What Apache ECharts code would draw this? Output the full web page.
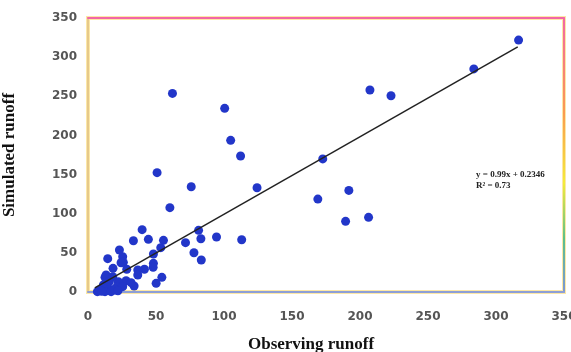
<!DOCTYPE html>
<html lang="en" style="height: 100%">

<head>
  <meta charset="UTF-8" />
  <title>Observed vs simulated runoff</title>
  <script src="https://cdn.jsdelivr.net/npm/echarts@6/dist/echarts.min.js"></script>
</head>

<body style="height: 100%; margin: 0; background: #fff">
  <div id="main" style="width: 571px; height: 352px"></div>
  <script type="text/javascript">
    // observed runoff (x) / simulated runoff (y)
    var observed = [
      316.6, 283.7, 207.3, 222.8, 172.6, 191.8, 169, 189.4, 206.3,
      62.1, 100.5, 104.9, 112.2, 50.8, 75.9, 124.3, 60.2,
      39.8, 44.4, 55.5, 81.3, 83, 94.5, 113, 71.7, 53.5, 48.1, 77.9, 83.3,
      33.4, 23.1, 25.5, 26, 14.5, 18.4, 48.1, 47.9, 41.5, 36.6, 36.6, 28.5,
      12.5, 16.4, 54.3, 50.1, 33.9, 28, 22.3, 21.4, 19.9, 15, 11.3, 6.9, 12.5, 17,
      24.3, 13.3, 18.2, 15.7, 8.3, 19.4, 25.5, 31.7, 10, 22
    ];
    var simulated = [
      321.8, 285, 258, 250.7, 170, 129.8, 118.7, 90.3, 95.4,
      253.7, 234.6, 193.7, 173.7, 152.4, 134.5, 133.2, 107.7,
      79.6, 67.3, 66, 78.8, 68, 70.2, 66.8, 63, 56.6, 48.5, 50.2, 40.9,
      65.5, 53.6, 45.1, 37.9, 42.6, 30.2, 36.6, 31.5, 29, 28.1, 21.7, 29,
      18.7, 17.5, 18.7, 11.1, 7.7, 14.4, 13.2, 6.8, 2.6, 4.7, 8.9, 0.4, 0.4, 0.4,
      37.4, 21.7, 19.6, 13.2, 2.6, 3.4, 6.8, 11.9, 1, 1.5
    ];
    // trend line y = 0.99x + 0.2346 (end points)
    var trendX = [5, 316];
    var trendY = [5.2, 313.1];
    var eqText = 'y = 0.99x + 0.2346\nR² = 0.73';

    var points = [];
    for (var i = 0; i < observed.length; i++) {
      points.push([observed[i], simulated[i]]);
    }
    var trend = [[trendX[0], trendY[0]], [trendX[1], trendY[1]]];

    var myChart = echarts.init(document.getElementById('main'));

    var tickLabel = {
      fontFamily: 'DejaVu Sans',
      fontWeight: 'bold',
      fontSize: 12,
      color: '#555'
    };

    var option = {
      animation: false,
      grid: {
        left: 88, right: 7, top: 18, bottom: 60,
        outerBoundsMode: 'none',
        containLabel: false,
        show: true,
        backgroundColor: '#fff',
        borderColor: '#fce7a6',
        borderWidth: 4
      },
      xAxis: [{
        type: 'value',
        min: 0, max: 350, interval: 50,
        name: 'Observing runoff',
        nameLocation: 'middle',
        nameGap: 44,
        nameTextStyle: {
          fontFamily: 'Liberation Serif', fontWeight: 'bold', fontSize: 17,
          color: '#111', padding: [0, 30, 0, 0]
        },
        axisLine: { onZero: false, lineStyle: { color: '#8d9fd6', width: 2 } },
        axisTick: { show: false },
        splitLine: { show: false },
        axisLabel: Object.assign({ margin: 19 }, tickLabel)
      }, {
        type: 'value',
        position: 'top',
        min: 0, max: 350,
        axisLine: { onZero: false, lineStyle: { color: '#f266a6', width: 2 } },
        axisTick: { show: false },
        splitLine: { show: false },
        axisLabel: { show: false }
      }],
      yAxis: [{
        type: 'value',
        min: 0, max: 350, interval: 50,
        name: 'Simulated runoff',
        nameLocation: 'middle',
        nameGap: 70,
        nameTextStyle: {
          fontFamily: 'Liberation Serif', fontWeight: 'bold', fontSize: 17, color: '#111'
        },
        axisLine: { onZero: false, lineStyle: { color: '#e6c98a', width: 2 } },
        axisTick: { show: false },
        splitLine: { show: false },
        axisLabel: Object.assign({ margin: 11 }, tickLabel)
      }, {
        type: 'value',
        position: 'right',
        min: 0, max: 350,
        axisLine: {
          onZero: false,
          lineStyle: {
            width: 2,
            color: new echarts.graphic.LinearGradient(0, 0, 0, 1, [
              { offset: 0, color: '#f266a6' },
              { offset: 0.35, color: '#fb9a50' },
              { offset: 0.6, color: '#f4ec3a' },
              { offset: 0.8, color: '#5cc08a' },
              { offset: 1, color: '#7f95d8' }
            ])
          }
        },
        axisTick: { show: false },
        splitLine: { show: false },
        axisLabel: { show: false }
      }],
      series: [{
        type: 'scatter',
        data: points,
        symbolSize: 9,
        itemStyle: { color: '#2236c9', opacity: 1 },
        z: 3
      }, {
        type: 'line',
        data: trend,
        symbol: 'none',
        lineStyle: { color: '#222', width: 1.5 },
        z: 4
      }],
      graphic: [{
        type: 'text',
        left: 476,
        top: 169,
        style: {
          text: eqText,
          fontFamily: 'Liberation Serif',
          fontWeight: 'bold',
          fontSize: 9,
          lineHeight: 11,
          align: 'center',
          fill: '#222'
        }
      }]
    };

    myChart.setOption(option);
    window.addEventListener('resize', myChart.resize);
  </script>
</body>

</html>
